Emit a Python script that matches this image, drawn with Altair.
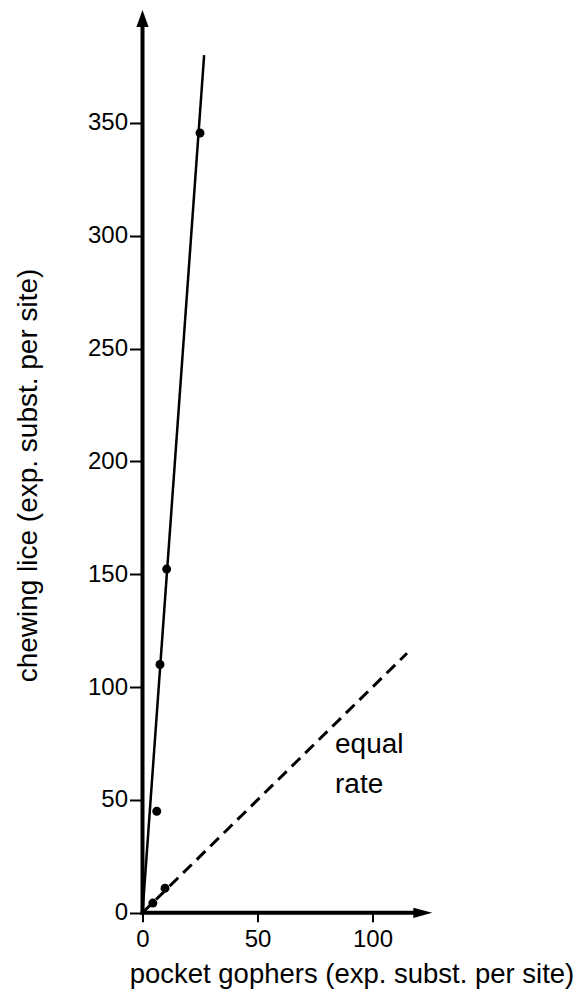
import altair as alt
import pandas as pd

# ---- data ----
gopher_rate = [4.5, 9.8, 6.2, 7.6, 10.5, 25.0]
lice_rate = [4.3, 10.9, 45.0, 110.0, 152.3, 345.5]
fit_x = [0.0, 26.8]
fit_y = [0.0, 380.0]
equal_x = [0.0, 115.0]
equal_y = [0.0, 115.0]
x_ticks = [0, 50, 100]
y_ticks = [0, 50, 100, 150, 200, 250, 300, 350]
x_title = "pocket gophers (exp. subst. per site)"
y_title = "chewing lice (exp. subst. per site)"
note_lines = ["equal", "rate"]

X_MAX = 126
Y_MAX = 400
PX_X = 2.3
PX_Y = 2.257
W = X_MAX * PX_X
H = Y_MAX * PX_Y
FONT = "Liberation Sans"

xs = alt.Scale(domain=[0, X_MAX], nice=False, zero=False)
ys = alt.Scale(domain=[0, Y_MAX], nice=False, zero=False)

pts = pd.DataFrame({"x": gopher_rate, "y": lice_rate})
fit = pd.DataFrame({"x": fit_x, "y": fit_y})
eq = pd.DataFrame({"x": equal_x, "y": equal_y})
axes_df = pd.DataFrame({"x": [0, 0], "y": [0, 0], "x2": [0, 118], "y2": [393, 0]})
yarrow = pd.DataFrame({"x": [0], "y": [Y_MAX]})
xarrow = pd.DataFrame({"x": [X_MAX], "y": [0]})
note = pd.DataFrame({"text": note_lines, "x": [83.7, 83.7], "y": [70.9, 53.2]})

x_axis = alt.Axis(values=x_ticks, domain=False, grid=False, tickSize=9, tickWidth=2,
                  tickColor="black", labelFontSize=24, labelFont=FONT, labelColor="black",
                  labelPadding=6, labelFlush=False, labelOverlap=False,
                  title=x_title, titleFontSize=27.5, titleFont=FONT, titleFontWeight="normal",
                  titleColor="black", titleX=209, titleY=70, titleBaseline="alphabetic",
                  titleAlign="center")
y_axis = alt.Axis(values=y_ticks, domain=False, grid=False, tickSize=13, tickWidth=2,
                  tickColor="black", labelFontSize=24, labelFont=FONT, labelColor="black",
                  labelPadding=2, labelFlush=False, labelOverlap=False,
                  title=y_title, titleFontSize=28, titleFont=FONT, titleFontWeight="normal",
                  titleColor="black", titleAngle=270, titleX=-105.5, titleY=465,
                  titleBaseline="alphabetic", titleAlign="center")

X = alt.X("x:Q", scale=xs, axis=x_axis)
Y = alt.Y("y:Q", scale=ys, axis=y_axis)

points = alt.Chart(pts).mark_circle(size=80, color="black", opacity=1).encode(x=X, y=Y)

fit_line = alt.Chart(fit).mark_line(color="black", strokeWidth=2.5).encode(x=X, y=Y)

eq_line = alt.Chart(eq).mark_line(color="black", strokeWidth=3, strokeDash=[12, 7]).encode(x=X, y=Y)

axis_lines = alt.Chart(axes_df).mark_rule(color="black", strokeWidth=4, strokeCap="square").encode(
    x=X, y=Y, x2="x2:Q", y2="y2:Q")

y_head = alt.Chart(yarrow).mark_point(shape="M0,0 L-0.36,1 L0.36,1 Z", size=1156,
                                      filled=True, color="black", opacity=1, strokeWidth=0).encode(x=X, y=Y)

x_head = alt.Chart(xarrow).mark_point(shape="M0,0 L-1,-0.27 L-1,0.27 Z", size=1444,
                                      filled=True, color="black", opacity=1, strokeWidth=0).encode(x=X, y=Y)

note_text = alt.Chart(note).mark_text(align="left", baseline="alphabetic", fontSize=28,
                                      font=FONT, color="black").encode(x=X, y=Y, text="text:N")

chart = alt.layer(points, fit_line, eq_line, axis_lines, y_head, x_head, note_text).properties(
    width=W, height=H,
    background="white",
    autosize=alt.AutoSizeParams(type="none"),
    padding={"left": 134.5, "top": 2, "right": 146, "bottom": 76},
).configure_view(stroke="transparent", strokeWidth=0)

chart.save("out.html", embed_options={"renderer": "svg", "actions": False})
